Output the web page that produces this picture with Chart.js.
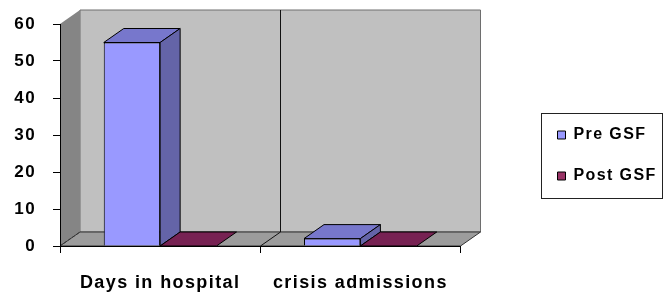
<!DOCTYPE html>
<html>
<head>
<meta charset="utf-8">
<script src="https://cdn.jsdelivr.net/npm/chart.js@4.4.1/dist/chart.umd.min.js"></script>
<style>
  html, body { margin: 0; padding: 0; background: #fff; }
  #wrap { width: 664px; height: 293px; }
</style>
</head>
<body>
<div id="wrap"><canvas id="gsfChart" width="664" height="293"></canvas></div>
<script>
const categories = ['Days in hospital', 'crisis admissions'];
const preGsf = [55, 2];
const postGsf = [0, 0];
const yTicks = [0, 10, 20, 30, 40, 50, 60];

// depth of the fake 3d look
const DX = 20, DY = -14;

const faceColors = {
    'Pre GSF': { top: '#7777cc', side: '#6464a8' },
    'Post GSF': { top: '#772253', side: '#5e1a42' }
};

const poly = (ctx, pts, fill, stroke) => {
    ctx.beginPath();
    ctx.moveTo(pts[0][0], pts[0][1]);
    for (let i = 1; i < pts.length; i++) ctx.lineTo(pts[i][0], pts[i][1]);
    ctx.closePath();
    if (fill) { ctx.fillStyle = fill; ctx.fill(); }
    if (stroke) { ctx.strokeStyle = stroke; ctx.lineWidth = 1; ctx.stroke(); }
};

const spacing = {
    id: 'spacing',
    beforeUpdate(chart) { chart.ctx.letterSpacing = '1.4px'; },
    beforeDraw(chart) { chart.ctx.letterSpacing = '1.4px'; },
    afterLayout(chart) {
        // let the legend text run up to the canvas edge (letter spacing is not measured)
        const lg = chart.legend;
        if (lg) { lg.right = chart.width; lg.width = chart.width - lg.left; }
    }
};

const walls = {
    id: 'walls',
    beforeDraw(chart) {
        const ctx = chart.ctx;
        const { left: L, right: R, top: T, bottom: B } = chart.chartArea;
        const x = chart.scales.x;
        ctx.save();
        ctx.fillStyle = '#fff';
        ctx.fillRect(0, 0, chart.width, chart.height);
        // back wall
        poly(ctx, [[L + DX, T + DY], [R + DX, T + DY], [R + DX, B + DY], [L + DX, B + DY]], '#c0c0c0', '#6e6e6e');
        // side wall
        poly(ctx, [[L, T], [L + DX, T + DY], [L + DX, B + DY], [L, B]], '#858585', null);
        // floor
        poly(ctx, [[L, B], [L + DX, B + DY], [R + DX, B + DY], [R, B]], '#9c9c9c', '#333');
        ctx.setLineDash([3, 2]);
        ctx.beginPath();
        ctx.moveTo(L, B); ctx.lineTo(L + DX, B + DY);
        ctx.strokeStyle = '#333';
        ctx.stroke();
        ctx.setLineDash([]);
        // category divider on back wall
        for (let i = 0; i < categories.length - 1; i++) {
            const bx = Math.round((x.getPixelForValue(i) + x.getPixelForValue(i + 1)) / 2) + 0.5;
            ctx.beginPath();
            ctx.moveTo(bx + DX, T + DY);
            ctx.lineTo(bx + DX, B + DY);
            ctx.lineTo(bx, B);
            ctx.strokeStyle = '#111';
            ctx.stroke();
        }
        ctx.restore();
    }
};

const boxes = {
    id: 'boxes',
    afterDatasetsDraw(chart) {
        const ctx = chart.ctx;
        const B = chart.chartArea.bottom;
        ctx.save();
        ctx.lineJoin = 'round';
        chart.data.datasets.forEach((ds, di) => {
            const meta = chart.getDatasetMeta(di);
            const c = faceColors[ds.label];
            meta.data.forEach(bar => {
                const p = bar.getProps(['x', 'y', 'width'], true);
                const x0 = p.x - p.width / 2, x1 = p.x + p.width / 2, y = p.y;
                poly(ctx, [[x0, y], [x0 + DX, y + DY], [x1 + DX, y + DY], [x1, y]], c.top, '#000');
                if (B - y > 0.5) {
                    poly(ctx, [[x1, y], [x1 + DX, y + DY], [x1 + DX, B + DY], [x1, B]], c.side, '#000');
                }
            });
        });
        ctx.restore();
    },
    afterDraw(chart) {
        const lg = chart.legend;
        if (!lg || !lg.legendHitBoxes.length) return;
        const hb = lg.legendHitBoxes;
        const ctx = chart.ctx;
        const top = hb[0].top - 14;
        const bottom = hb[hb.length - 1].top + hb[hb.length - 1].height + 14;
        ctx.save();
        ctx.strokeStyle = '#222';
        ctx.lineWidth = 1;
        ctx.strokeRect(Math.round(hb[0].left) - 16.5, Math.round(top) + 0.5, chart.width - Math.round(hb[0].left) + 15, Math.round(bottom - top));
        ctx.restore();
    }
};

new Chart(document.getElementById('gsfChart'), {
    type: 'bar',
    data: {
        labels: categories,
        datasets: [{
            label: 'Pre GSF',
            data: preGsf,
            backgroundColor: '#9999ff',
            borderColor: '#000',
            borderWidth: 1
        }, {
            label: 'Post GSF',
            data: postGsf,
            backgroundColor: '#993366',
            borderColor: '#000',
            borderWidth: 1
        }]
    },
    options: {
        responsive: false,
        animation: false,
        events: [],
        layout: { padding: { top: 18, right: 25, bottom: 0, left: 0 } },
        datasets: { bar: { categoryPercentage: 0.563, barPercentage: 1 } },
        scales: {
            x: {
                grid: { offset: true, drawOnChartArea: false, tickLength: 7, color: '#000' },
                border: { color: '#000' },
                ticks: { color: '#000', padding: 19, font: { family: 'Liberation Sans, Arial', size: 18, weight: 'bold' } },
                afterFit: s => { s.height = 47; }
            },
            y: {
                min: 0,
                max: 60,
                afterBuildTicks: s => { s.ticks = yTicks.map(v => ({ value: v })); },
                grid: { drawOnChartArea: false, tickLength: 7, color: '#000' },
                border: { color: '#000' },
                ticks: { color: '#000', padding: 17, font: { family: 'Liberation Sans, Arial', size: 17, weight: 'bold' } },
                afterFit: s => { s.width = 60; s.paddingTop = 24; }
            },
            spacer: {
                position: 'right',
                grid: { display: false },
                border: { display: false },
                ticks: { display: false },
                afterFit: s => { s.width = 72; }
            }
        },
        plugins: {
            legend: {
                position: 'right',
                labels: {
                    color: '#000',
                    boxWidth: 8,
                    boxHeight: 8,
                    padding: 25,
                    font: { family: 'Liberation Sans, Arial', size: 16, weight: 'bold' }
                }
            },
            tooltip: { enabled: false }
        }
    },
    plugins: [spacing, walls, boxes]
});
</script>
</body>
</html>
